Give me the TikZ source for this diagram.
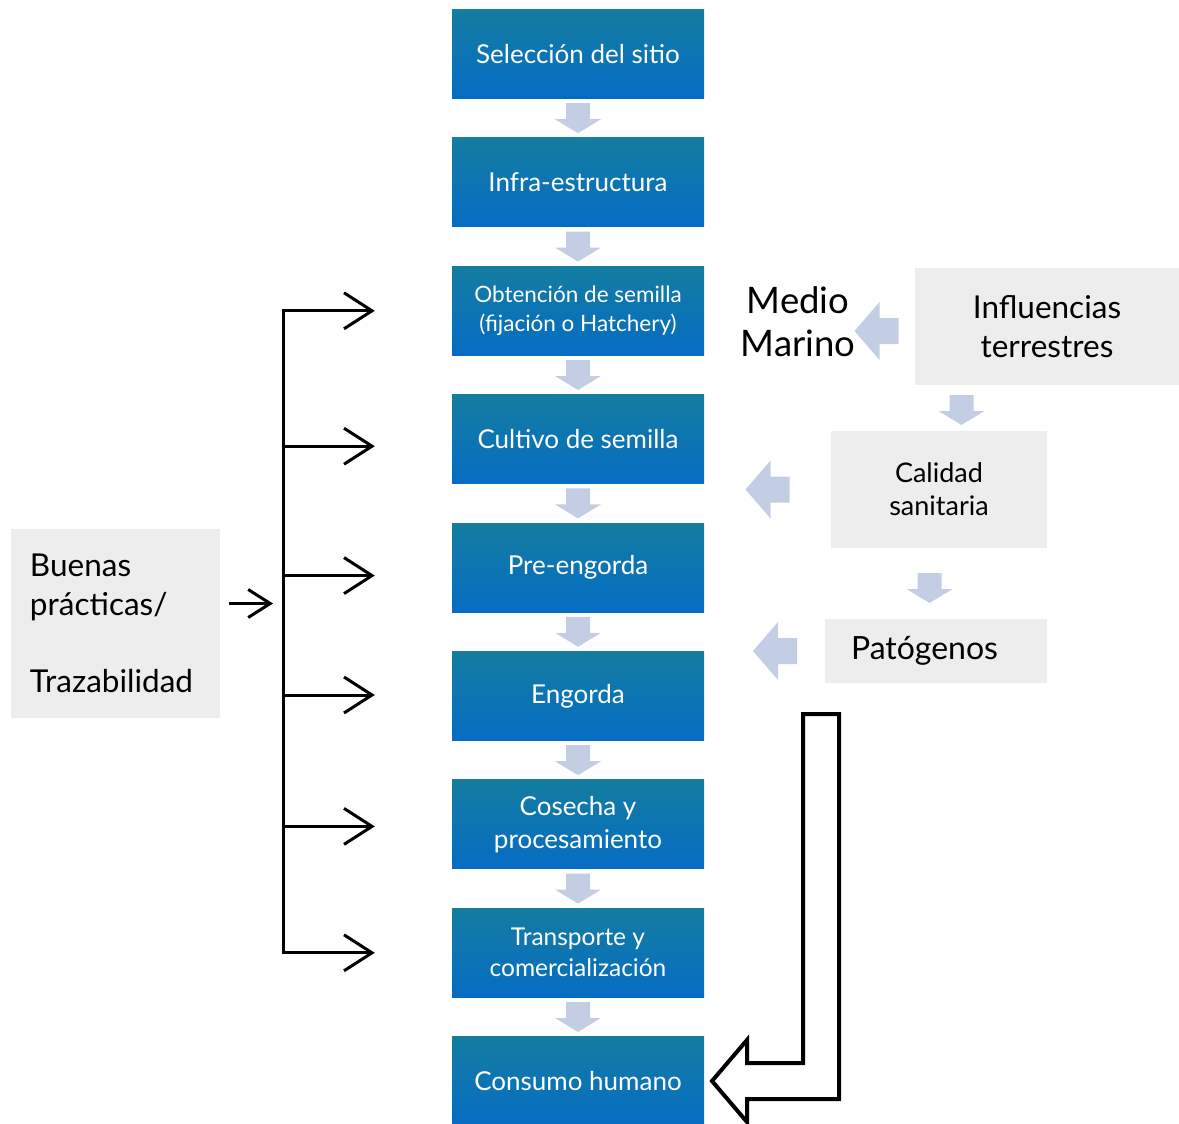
\documentclass[tikz,border=0pt]{standalone}
\usepackage{fontspec}
\setmainfont{Lato}
\usetikzlibrary{arrows.meta,positioning,calc}
\definecolor{stagetop}{RGB}{20,125,160}
\definecolor{stagebot}{RGB}{5,108,196}
\definecolor{cflow}{RGB}{195,206,228}
\definecolor{cfactor}{RGB}{237,237,237}

\begin{document}
\begin{tikzpicture}[
  x=1pt, y=-1pt,
  >={Straight Barb[length=28pt,width=36pt]},
  stage/.style={minimum width=252pt, minimum height=89pt, inner sep=0pt, align=center, text=white, top color=stagetop, bottom color=stagebot, font=\fontsize{26}{33}\selectfont},
  factor/.style={fill=cfactor, inner sep=0pt, align=center},
  branch/.style={line width=3pt, ->},
  feed/.style={line width=3pt, -{Straight Barb[length=22pt,width=28pt]}},
  flowdown/.pic={\fill[cflow] (-12,-15) -- (12,-15) -- (12,1) -- (23,1) -- (0,15) -- (-23,1) -- (-12,1) -- cycle;},
  flowleft/.pic={\fill[cflow] (22,-13) -- (22,13) -- (3,13) -- (3,29) -- (-22,0) -- (3,-29) -- (3,-13) -- cycle;},
]
\useasboundingbox (0,0) rectangle (1179,1124);

% production stages
\node[stage] (sitio) at (578,54) {Selección del sitio};
\node[stage, below=39pt of sitio] (infra) {Infra-estructura};
\node[stage, below=39pt of infra, font=\fontsize{22.5}{29}\selectfont] (semilla) {Obtención de semilla\\(fijación o Hatchery)};
\node[stage, below=39pt of semilla] (cultivo) {Cultivo de semilla};
\node[stage, below=39pt of cultivo] (preeng) {Pre-engorda};
\node[stage, below=39pt of preeng] (engorda) {Engorda};
\node[stage, below=39pt of engorda] (cosecha) {Cosecha y\\procesamiento};
\node[stage, below=39pt of cosecha, font=\fontsize{24.5}{31}\selectfont] (transp) {Transporte y\\comercialización};
\node[stage, below=39pt of transp] (consumo) {Consumo humano};
\foreach \a/\b in {sitio/infra, infra/semilla, semilla/cultivo, cultivo/preeng, preeng/engorda, engorda/cosecha, cosecha/transp, transp/consumo}
  \pic at ($(\a.south)!0.5!(\b.north)$) {flowdown};

% outside factors
\node[font=\fontsize{36.5}{43}\selectfont, align=center] (medio) at (798,322) {Medio\\Marino};
\node[factor, minimum width=264pt, minimum height=117pt, font=\fontsize{31.5}{39}\selectfont] (terr) at (1047,326.5) {Influencias\\terrestres};
\node[factor, minimum width=216pt, minimum height=117pt, font=\fontsize{27}{33}\selectfont] (calidad) at (939,489.5) {Calidad\\sanitaria};
\node[factor, minimum height=64pt, inner xsep=26pt, text width=170pt, align=left, font=\fontsize{32}{36}\selectfont] (patog) at (936,651) {Patógenos};
\pic at (876.5,331) {flowleft};
\pic at (767.5,489.5) {flowleft};
\pic at (775,651) {flowleft};
\pic at (961.5,410) {flowdown};
\pic at (929.5,588) {flowdown};

% good practices feeding every stage
\node[factor, minimum height=189pt, inner xsep=19pt, text width=171pt, align=left, font=\fontsize{31.5}{38.5}\selectfont] (buenas) at (115.5,623.5) {Buenas\\prácticas/\\[38.5pt]Trazabilidad};
\coordinate (bar) at (283,0);
\draw[branch, <->] ($(transp.west)+(-77,0)$) -| (bar |- semilla.west) -- ($(semilla.west)+(-77,0)$);
\foreach \s/\d in {cultivo/7,preeng/8,engorda/-1,cosecha/2}
  \draw[branch] ($(bar |- \s.west)+(0,\d)$) -- ($(\s.west)+(-77,\d)$);
\draw[feed] ($(buenas.east)+(9,-20)$) -- ($(bar |- buenas.east)+(-10,-20)$);

% return path to human consumption
\draw[line width=4pt, fill=white] (803,714) -- (839,714) -- (839,1099) -- (747,1099) -- (747,1122) -- (712,1081) -- (747,1040) -- (747,1063) -- (803,1063) -- cycle;
\end{tikzpicture}
\end{document}
